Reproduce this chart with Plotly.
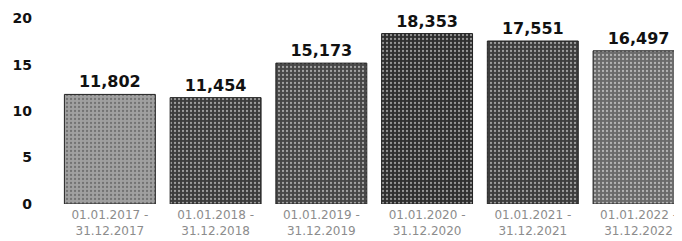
import plotly.graph_objects as go

categories = ["01.01.2017 -<br>31.12.2017", "01.01.2018 -<br>31.12.2018",
              "01.01.2019 -<br>31.12.2019", "01.01.2020 -<br>31.12.2020",
              "01.01.2021 -<br>31.12.2021", "01.01.2022 -<br>31.12.2022"]
values = [11.802, 11.454, 15.173, 18.353, 17.551, 16.497]
value_labels = ["11,802", "11,454", "15,173", "18,353", "17,551", "16,497"]
bar_colors = ["#a0a0a0", "#3c3c3c", "#464646", "#2f2f2f", "#3d3d3d", "#6a6a6a"]
y_ticks = [0, 5, 10, 15, 20]

fig = go.Figure(go.Bar(
    x=categories, y=values,
    text=value_labels, textposition="outside", cliponaxis=False,
    texttemplate="<b>%{text}</b>",
    textfont=dict(family="DejaVu Sans", size=16, color="#111111"),
    marker=dict(color=bar_colors, line=dict(color="#202020", width=1),
                pattern=dict(shape=".", fgcolor="#d8d8d8", size=4, solidity=0.25)),
))
fig.update_layout(
    width=674, height=233,
    margin=dict(l=49, r=0, t=1, b=37, autoexpand=False),
    paper_bgcolor="white", plot_bgcolor="white",
    bargap=0.14, showlegend=False,
)
fig.update_xaxes(range=[-0.5, 5.411], showgrid=False, showline=False, ticks="",
                 automargin=False, ticklabelstandoff=2,
                 tickfont=dict(family="DejaVu Sans", size=12, color="#8c8c8c"))
fig.update_yaxes(range=[0, 21], tickvals=y_ticks, showgrid=False, zeroline=False,
                 showline=False, ticks="", ticklabelstandoff=24, automargin=False,
                 tickfont=dict(family="DejaVu Sans", size=14, color="#111111", weight="bold"))
fig.write_html("out.html")
